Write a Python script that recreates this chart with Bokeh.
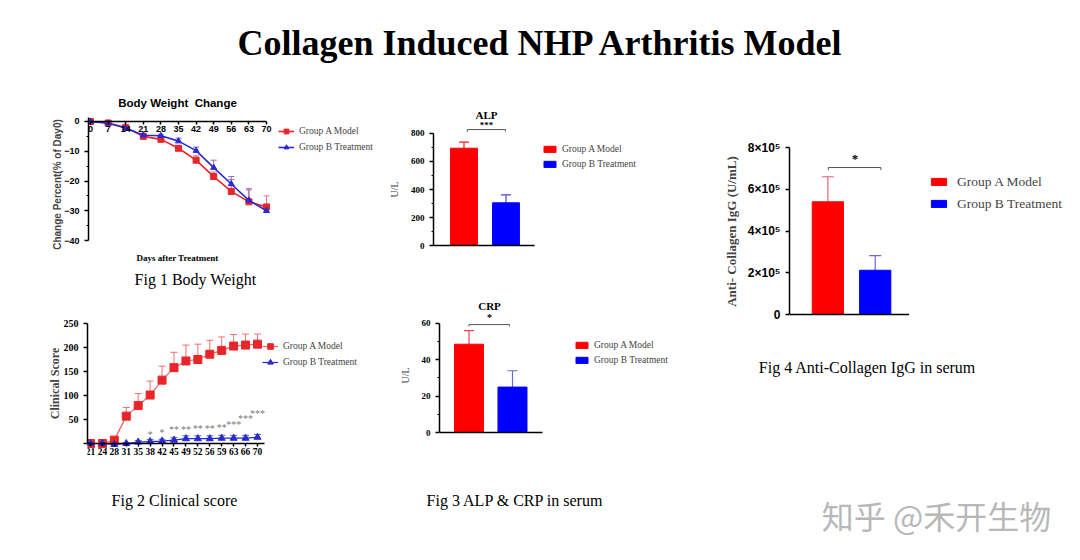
from bokeh.plotting import figure
from bokeh.models import (Range1d, FixedTicker, Label, Legend, LegendItem,
                          Whisker, TeeHead, ColumnDataSource)
from bokeh.layouts import row, column
from bokeh.embed import file_html
from bokeh.resources import INLINE
from bokeh.core.properties import value

SERIF = "Liberation Serif"
SANS = "Liberation Sans"

# ---------------- data ----------------
main_title = "Collagen Induced NHP Arthritis Model"
groups = ["Group A Model", "Group B Treatment"]

bw_days = [0, 7, 14, 21, 28, 35, 42, 49, 56, 63, 70]
bw_a = [0, -0.5, -2, -5, -6, -9, -13, -18.5, -23.5, -27, -28.7]
bw_a_err = [0, 0.3, 0.5, 0.5, 0.5, 0.8, 1.5, 1.5, 4.0, 4.5, 3.7]
bw_b = [0, -0.6, -2.2, -4.6, -4.8, -6.6, -9.8, -15.5, -21, -26.5, -30]
bw_b_err = [0, 0.3, 0.5, 0.5, 0.5, 1.0, 1.2, 2.5, 2.5, 3.5, 0.5]
bw_yticks = [0, -10, -20, -30, -40]

cs_days = ["21", "24", "28", "31", "35", "38", "42", "45", "49", "52", "56", "59", "63", "66", "70"]
cs_a = [0, 0, 7, 57, 79, 101, 132, 158, 172, 175, 186, 194, 203, 205, 207]
cs_a_err = [0, 0, 3, 18, 25, 29, 29, 32, 33, 32, 29, 28, 24, 23, 21]
cs_b = [0, 0, -2, 0, 3, 4, 5, 7, 10, 10, 10, 11, 11, 11, 13]
cs_b_err = [0, 0, 2, 2, 3, 4, 4, 5, 6, 6, 6, 6, 6, 6, 6]
cs_stars = ["", "", "", "", "", "*", "*", "**", "**", "**", "**", "**", "***", "***", "***"]
cs_star_y = [0, 0, 0, 0, 0, 18, 23, 29, 29, 32, 32, 34, 40, 53, 63]
cs_yticks = [0, 50, 100, 150, 200, 250]

alp = [695, 305]
alp_err = [43, 57]
alp_ticks = [0, 200, 400, 600, 800]
crp = [48.6, 25]
crp_err = [7.5, 9]
crp_ticks = [0, 20, 40, 60]
igg = [540000, 212000]
igg_err = [120000, 70000]
igg_ticks = [0, 200000, 400000, 600000, 800000]
igg_tick_labels = ["0", "2×10⁵", "4×10⁵", "6×10⁵", "8×10⁵"]

RED = "#ff0000"
BLUE = "#0000ff"
LRED = "#e8262a"
LBLUE = "#2a2ad0"


def base(w, h, xr, yr, l, b=0, t=0, xaxis=True):
    p = figure(width=w, height=h, x_range=xr, y_range=yr, output_backend="svg", title=None,
               toolbar_location=None, min_border_left=l, min_border_right=0,
               min_border_top=t, min_border_bottom=b,
               x_axis_location="below" if xaxis else None)
    p.outline_line_color = None
    p.grid.visible = False
    p.frame_align = False
    return p


def blank(w, h):
    p = figure(width=w, height=h, x_range=(0, w), y_range=(0, h), output_backend="svg", title=None,
               toolbar_location=None, x_axis_type=None, y_axis_type=None, min_border=0)
    p.outline_line_color = None
    p.grid.visible = False
    p.frame_align = False
    return p


def style_axis(ax, font, size, bold=True):
    ax.axis_line_width = 1.5
    ax.major_tick_line_width = 1.5
    ax.minor_tick_line_width = 1.2
    ax.major_tick_out = 4
    ax.major_tick_in = 0
    ax.minor_tick_out = 2
    ax.minor_tick_in = 0
    ax.major_label_text_font = font
    ax.major_label_text_font_size = f"{size}px"
    ax.major_label_text_font_style = "bold" if bold else "normal"
    ax.major_label_text_color = "black"


def ylabel(ax, text, font, size, bold, standoff):
    ax.axis_label = text
    ax.axis_label_text_font = font
    ax.axis_label_text_font_size = f"{size}px"
    ax.axis_label_text_font_style = "bold" if bold else "normal"
    ax.axis_label_standoff = standoff


def lab(p, x, y, text, size, font=SERIF, style="normal", align="center", color="black"):
    p.add_layout(Label(x=x, y=y, x_units="screen", y_units="screen", text=text,
                       text_font=font, text_font_size=f"{size}px", text_font_style=style,
                       text_align=align, text_baseline="middle", text_color=color))


def errbar(p, xs, ys, errs, color, size=7, width=1.2):
    src = ColumnDataSource(dict(x=xs, y=ys, top=[a + e for a, e in zip(ys, errs)]))
    p.add_layout(Whisker(source=src, base="x", upper="top", lower="y", line_color=color,
                         line_width=width, lower_head=None,
                         upper_head=TeeHead(size=size, line_color=color, line_width=width)))


def legend(p, items, x, y, gw, gh, lh, sp, size, standoff=5):
    lg = Legend(items=items, location=(x, y), padding=0, margin=0, spacing=sp,
                glyph_width=gw, glyph_height=gh, label_height=lh, label_standoff=standoff,
                border_line_color=None, background_fill_alpha=0,
                label_text_font=SERIF, label_text_font_size=f"{size}px")
    p.add_layout(lg)


# ---------------- header ----------------
head = blank(1080, 78)
lab(head, 541, 36, main_title, 36, style="bold")

# ---------------- Fig 1 body weight ----------------
f1 = base(380, 232, Range1d(-0.8, 115.35), Range1d(-56.8, 14.45), 88, 20)
errbar(f1, bw_days, bw_a, bw_a_err, "#e0708a", 6, 1)
errbar(f1, bw_days, bw_b, bw_b_err, "#8a6ac8", 6, 1)
la = f1.line(bw_days, bw_a, color=LRED, line_width=1.6)
sa = f1.scatter(bw_days, bw_a, marker="square", size=6, color=LRED)
lb = f1.line(bw_days, bw_b, color=LBLUE, line_width=1.6)
sb = f1.scatter(bw_days, bw_b, marker="triangle", size=6, color=LBLUE)
for ax in (f1.xaxis[0], f1.yaxis[0]):
    style_axis(ax, SANS, 9)
f1.xaxis.fixed_location = 0
f1.xaxis.bounds = (bw_days[0], bw_days[-1])
f1.xaxis.ticker = FixedTicker(ticks=bw_days)
f1.xaxis.major_label_standoff = 2
f1.xaxis.major_tick_out = 3
f1.yaxis.bounds = (-40, 1.2)
f1.yaxis.ticker = FixedTicker(ticks=bw_yticks, minor_ticks=[-5, -15, -25, -35])
ylabel(f1.yaxis[0], "Change Percent(% of Day0)", SANS, 10, True, -2)
lab(f1, 89, 188, "Body Weight\u00a0 Change", 11.5, font=SANS, style="bold")
lab(f1, 89, 33, "Days after Treatment", 9, style="bold")
lab(f1, 107, 11, "Fig 1 Body Weight", 16)
legend(f1, [LegendItem(label=groups[0], renderers=[la, sa]),
            LegendItem(label=groups[1], renderers=[lb, sb])], 190, 137, 16, 12, 12, 4, 9.5)

# ---------------- Fig 2 clinical score ----------------
cs_x = list(range(len(cs_days)))
f2 = base(380, 166, Range1d(-0.25, 24.31), Range1d(-27.1, 277.1), 87, 20)
errbar(f2, cs_x, cs_a, cs_a_err, "#f07070", 7, 1)
errbar(f2, cs_x, cs_b, cs_b_err, "#5a5ad8", 7, 1)
l2a = f2.line(cs_x, cs_a, color="#f06060", line_width=1.2)
s2a = f2.scatter(cs_x, cs_a, marker="square", size=8, color=LRED)
l2b = f2.line(cs_x, cs_b, color=LBLUE, line_width=1.2)
s2b = f2.scatter(cs_x, cs_b, marker="triangle", size=7, color=LBLUE)
st = [(i, s, y) for i, s, y in zip(cs_x, cs_stars, cs_star_y) if s]
f2.text(x=[a for a, _, _ in st], y=[c for _, _, c in st], text=[b for _, b, _ in st],
        text_font=value(SERIF), text_font_size="10px", text_align="center",
        text_baseline="middle", text_color="#7a7a7a")
for ax in (f2.xaxis[0], f2.yaxis[0]):
    style_axis(ax, SERIF, 10)
f2.xaxis.fixed_location = 0
f2.xaxis.bounds = (-0.5, len(cs_days) - 0.4)
f2.xaxis.ticker = FixedTicker(ticks=cs_x)
f2.xaxis.major_label_overrides = dict(zip(cs_x, cs_days))
f2.xaxis.major_label_text_font_size = "9.5px"
f2.xaxis.major_tick_out = 3
f2.xaxis.major_label_standoff = 2
f2.yaxis.bounds = (0, 250)
f2.yaxis.ticker = FixedTicker(ticks=cs_yticks)
f2.yaxis.major_label_overrides = {0: ""}
ylabel(f2.yaxis[0], "Clinical Score", SERIF, 12, True, -1)
legend(f2, [LegendItem(label=groups[0], renderers=[l2a, s2a]),
            LegendItem(label=groups[1], renderers=[l2b, s2b])], 175, 87, 16, 14, 14, 2, 9.5)

cap2 = blank(380, 84)
lab(cap2, 174, 60, "Fig 2 Clinical score", 16)


def bar_fig(w, h, xr, yr, l, t, b, vals, errs, bw, ecol, cap, axis_end):
    p = base(w, h, xr, yr, l, b, t, xaxis=False)
    xs = list(range(len(groups)))
    rs = []
    for x, v, c in zip(xs, vals, (RED, BLUE)):
        rs.append(p.vbar(x=[x], top=[v], width=bw, color=c))
    for x, v, e, c in zip(xs, vals, errs, ecol):
        errbar(p, [x], [v], [e], c, cap, 1.2)
    p.segment(x0=[xr.start], y0=[0], x1=[axis_end], y1=[0], line_color="black", line_width=1.5)
    style_axis(p.yaxis[0], SERIF, 9)
    return p, rs


def bracket(p, x0, x1, yv, drop, color="#555555"):
    p.segment(x0=[x0], y0=[yv], x1=[x1], y1=[yv], line_color=color, line_width=1)
    p.segment(x0=[x0, x1], y0=[yv, yv], x1=[x0, x1], y1=[yv - drop, yv - drop], line_color=color,
              line_width=1)


# ---------------- Fig 3 ALP ----------------
f3, r3 = bar_fig(340, 212, Range1d(-0.726, 6.107), Range1d(-321.4, 1121.4), 53, 10, 0, alp, alp_err,
                 0.64, ("#ff2020", "#4a4ad0"), 10, 1.68)
f3.yaxis.ticker = FixedTicker(ticks=alp_ticks, minor_ticks=[100, 300, 500, 700])
f3.yaxis.bounds = (0, 800)
ylabel(f3.yaxis[0], "U/L", SERIF, 10, False, 8)
bracket(f3, 0.08, 0.99, 828, 15)
lab(f3, 53, 176, "ALP", 11, style="bold")
lab(f3, 53, 166, "***", 9, style="bold")
legend(f3, [LegendItem(label=groups[i], renderers=[r3[i]]) for i in range(2)],
       109, 120.5, 15, 8, 11, 4, 9.5)

# ---------------- Fig 3 CRP ----------------
f4, r4 = bar_fig(340, 180, Range1d(-0.678, 5.782), Range1d(-15.41, 78.16), 59, 0, 10, crp, crp_err,
                 0.667, ("#f04060", "#6a6ad8"), 10, 1.69)
f4.yaxis.ticker = FixedTicker(ticks=crp_ticks, minor_ticks=[10, 30, 50])
f4.yaxis.bounds = (0, 60)
ylabel(f4.yaxis[0], "U/L", SERIF, 10, False, 8)
bracket(f4, 0.0, 0.93, 59.4, 1)
lab(f4, 50, 155, "CRP", 11, style="bold")
lab(f4, 50, 143, "*", 10, style="bold")
legend(f4, [LegendItem(label=groups[i], renderers=[r4[i]]) for i in range(2)],
       135, 94.5, 15, 8, 11, 4, 9.5)

cap3 = blank(340, 90)
lab(cap3, 135, 60, "Fig 3 ALP & CRP in serum", 16)

# ---------------- Fig 4 IgG ----------------
f5, r5 = bar_fig(360, 262, Range1d(-0.8105, 5.337), Range1d(-124550, 919800), 68, 44, 0, igg, igg_err,
                 0.66, ("#e86070", "#6a6ac8"), 12, 1.716)
style_axis(f5.yaxis[0], SANS, 12)
f5.yaxis.ticker = FixedTicker(ticks=igg_ticks)
f5.yaxis.major_label_overrides = dict(zip(igg_ticks, igg_tick_labels))
f5.yaxis.bounds = (0, 800000)
ylabel(f5.yaxis[0], "Anti- Collagen IgG (U/mL)", SERIF, 13, True, 6)
bracket(f5, 0.01, 1.12, 704000, 12000)
lab(f5, 65.5, 182, "*", 13, style="bold")
legend(f5, [LegendItem(label=groups[i], renderers=[r5[i]]) for i in range(2)],
       140, 128.3, 19, 9, 14, 6, 13.5, standoff=9)

# ---------------- footer ----------------
foot = blank(360, 220)
lab(foot, 147, 193, "Fig 4 Anti-Collagen IgG in serum", 16)
lab(foot, 216, 46, "知乎 @禾开生物", 32, font="Noto Sans CJK SC", color="#b8b8b8")

layout = column(head, row(column(f1, f2, cap2), column(f3, f4, cap3), column(f5, foot)))

open("out.html", "w").write(file_html(layout, INLINE))
